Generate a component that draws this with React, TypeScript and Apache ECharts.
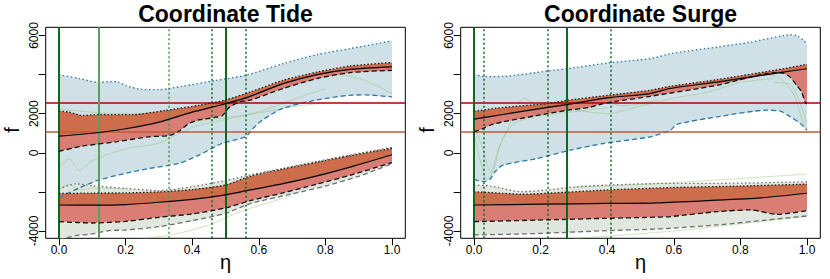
import React, { useEffect, useRef } from "react";
import * as echarts from "echarts";

// ---------- tick values ----------
const xTicks = [0, 0.2, 0.4, 0.6, 0.8, 1.0];
const yTicks = [-4000, -2000, 0, 2000, 4000, 6000];
const yLabels = [-4000, 0, 2000, 6000];
const titles = ["Coordinate Tide", "Coordinate Surge"];
const hLines = [2550, 1100];

// ---------- Tide (left panel) ----------
const tideOuterTop = [[0,4000],[0.06,3800],[0.12,3600],[0.15,3640],[0.175,3630],[0.2,3440],[0.25,3240],[0.3,3230],[0.37,3400],[0.47,3700],[0.56,3960],[0.673,4560],[0.775,5020],[0.874,5330],[1.0,5720]];
const tideOuterBottom = [[0,-2300],[0.06,-1800],[0.12,-1390],[0.2,-1050],[0.27,-800],[0.36,-540],[0.42,-120],[0.49,480],[0.56,820],[0.58,1200],[0.61,1670],[0.67,2260],[0.77,2690],[0.87,2940],[0.92,2960],[1.0,2860]];
const tideUpTop = [[0,2130],[0.03,2080],[0.07,1910],[0.12,1960],[0.22,1950],[0.32,2170],[0.42,2430],[0.5,2700],[0.574,3110],[0.673,3710],[0.775,4130],[0.874,4440],[1.0,4620]];
const tideUpMedian = [[0,850],[0.1,1000],[0.2,1230],[0.3,1570],[0.4,2080],[0.5,2510],[0.574,2890],[0.673,3540],[0.775,4000],[0.874,4270],[1.0,4400]];
const tideUpBottom = [[0,80],[0.07,340],[0.17,560],[0.27,820],[0.33,880],[0.36,1100],[0.39,1500],[0.42,1680],[0.47,1820],[0.49,1900],[0.51,2300],[0.54,2600],[0.574,2690],[0.673,3290],[0.775,3800],[0.874,4100],[1.0,4220]];
const tideLoOuterTop = [[0,-1850],[0.05,-1590],[0.1,-1680],[0.2,-1820],[0.3,-1930],[0.4,-1730],[0.5,-1420],[0.574,-1130],[0.673,-790],[0.775,-440],[0.874,-110],[1.0,280]];
const tideLoOuterBottom = [[0,-4450],[0.05,-4240],[0.1,-4150],[0.15,-3980],[0.2,-3950],[0.3,-3780],[0.4,-3470],[0.5,-3100],[0.574,-2600],[0.7,-2100],[0.8,-1700],[0.9,-1200],[1.0,-560]];
const tideLoTop = [[0,-2080],[0.1,-2060],[0.2,-2050],[0.3,-2000],[0.4,-1880],[0.5,-1650],[0.574,-1200],[0.673,-830],[0.775,-480],[0.874,-150],[1.0,230]];
const tideLoMedian = [[0,-2670],[0.1,-2680],[0.2,-2650],[0.3,-2530],[0.4,-2380],[0.5,-2150],[0.574,-1900],[0.673,-1580],[0.775,-1180],[0.874,-730],[1.0,-100]];
const tideLoBottom = [[0,-3520],[0.1,-3590],[0.2,-3510],[0.3,-3300],[0.4,-3130],[0.5,-2820],[0.574,-2450],[0.673,-2050],[0.775,-1600],[0.874,-1150],[1.0,-500]];
const tideGreen = [
  [[0,2200],[0.05,2150],[0.12,2050],[0.25,2000],[0.35,2200],[0.45,2400],[0.55,2650],[0.65,3100]],
  [[0,-800],[0.03,-300],[0.06,-900],[0.1,-400],[0.2,200],[0.3,500],[0.4,1300],[0.5,1700],[0.6,2100],[0.7,2700],[0.8,3300]],
  [[0,1800],[0.08,1600],[0.2,1400],[0.35,1500],[0.45,1700],[0.55,1900],[0.62,2100],[0.72,2400],[0.8,2550]],
  [[0,-1900],[0.03,-1600],[0.06,-1900],[0.1,-1800],[0.2,-1850]],
  [[0.85,4000],[0.92,3700],[0.97,3300],[1.0,3000]],
  [[0.26,-4380],[0.35,-4150],[0.45,-3700],[0.53,-3100],[0.6,-2700],[0.7,-2200]],
];
const tideVSolid = [0, 0.503];
const tideVLight = [0.12];
const tideVDotted = [0.333, 0.463, 0.564];

// ---------- Surge (right panel) ----------
const surgeOuterTop = [[0,4015],[0.03,3900],[0.09,3910],[0.22,4180],[0.28,4300],[0.4,4590],[0.53,4820],[0.59,5070],[0.73,5410],[0.83,5660],[0.93,6000],[0.95,6040],[0.97,5980],[0.99,5750],[1.0,5550]];
const surgeOuterBottom = [[0,-1360],[0.027,-1480],[0.048,-1360],[0.063,-970],[0.087,-630],[0.19,-290],[0.29,140],[0.39,480],[0.53,820],[0.59,1160],[0.61,1460],[0.73,1840],[0.88,2180],[0.92,2130],[0.95,1840],[0.98,1500],[1.0,1160]];
const surgeUpTop = [[0,2130],[0.087,2320],[0.222,2520],[0.282,2690],[0.402,2940],[0.529,3200],[0.589,3400],[0.729,3740],[0.929,4300],[1.0,4530]];
const surgeUpMedian = [[0,1720],[0.087,1960],[0.222,2320],[0.282,2480],[0.402,2810],[0.529,3030],[0.589,3290],[0.729,3620],[0.929,4130],[1.0,4300]];
const surgeUpBottom = [[0,1070],[0.027,1240],[0.048,1410],[0.087,1580],[0.222,2010],[0.282,2180],[0.347,2320],[0.388,2520],[0.43,2640],[0.529,2890],[0.729,3450],[0.909,4100],[0.929,4070],[0.949,3880],[0.969,3450],[0.984,3110],[0.994,2600],[1.0,2500]];
const surgeLoOuterTop = [[0,-1650],[0.05,-1700],[0.1,-1880],[0.14,-1990],[0.22,-1900],[0.3,-1750],[0.4,-1650],[0.59,-1560],[0.73,-1560],[1.0,-1480]];
const surgeLoOuterBottom = [[0,-4200],[0.1,-4170],[0.22,-4110],[0.4,-3980],[0.53,-3910],[0.59,-3860],[0.73,-3690],[0.93,-3350],[1.0,-3230]];
const surgeLoTop = [[0,-1990],[0.087,-2070],[0.14,-2120],[0.22,-2070],[0.4,-1900],[0.59,-1780],[0.8,-1700],[1.0,-1600]];
const surgeLoMedian = [[0,-2670],[0.2,-2630],[0.4,-2590],[0.55,-2560],[0.73,-2420],[0.85,-2320],[1.0,-2070]];
const surgeLoBottom = [[0,-3520],[0.22,-3430],[0.4,-3350],[0.53,-3300],[0.59,-3260],[0.73,-3010],[0.83,-2920],[0.91,-3150],[1.0,-2960]];
const surgeGreen = [
  [[0,1000],[0.02,-500],[0.04,-1400],[0.06,-800],[0.08,500],[0.12,1500],[0.2,1900],[0.3,2100],[0.4,2300]],
  [[0,1500],[0.03,0],[0.05,-1000],[0.07,0],[0.1,1200],[0.15,2800],[0.2,2400],[0.3,2600],[0.35,2800],[0.45,2400],[0.55,2700]],
  [[0.3,2200],[0.4,2000],[0.5,2400],[0.6,2800],[0.7,3100],[0.8,3600],[0.9,3800]],
  [[0.88,4000],[0.92,3800],[0.96,3000],[0.98,2000],[1.0,1000]],
  [[0.9,3600],[0.95,3500],[0.98,2500],[1.0,1500]],
  [[0.3,-1750],[0.53,-1600],[1.0,-1090]],
  [[0.3,-4380],[0.6,-4000],[1.0,-3250]],
];
const surgeVSolid = [0, 0.283];
const surgeVLight: number[] = [];
const surgeVDotted = [0.031, 0.223, 0.405];

const FONT = "'Liberation Sans', Arial, Helvetica, sans-serif";
const GRID_LEFT = [45.7, 460.7];

function band(gi: number, upper: number[][], lower: number[][], color: string, z: number) {
  return {
    type: "custom",
    xAxisIndex: gi,
    yAxisIndex: gi,
    data: [[0, 0]],
    silent: true,
    z,
    renderItem: (params: any, api: any) => {
      const pts = upper.map((p) => api.coord(p)).concat(lower.slice().reverse().map((p) => api.coord(p)));
      const cs = params.coordSys;
      return {
        type: "polygon",
        shape: { points: pts },
        style: { fill: color, stroke: null },
        clipPath: { type: "rect", shape: { x: cs.x, y: cs.y, width: cs.width, height: cs.height } },
      };
    },
  };
}

function line(gi: number, data: number[][], color: string, width: number, type: any, z: number, opacity = 1) {
  return {
    type: "line",
    xAxisIndex: gi,
    yAxisIndex: gi,
    data,
    showSymbol: false,
    symbol: "none",
    smooth: 0.25,
    silent: true,
    z,
    lineStyle: { color, width, type, opacity, cap: "butt" },
  };
}

function panelSeries(gi: number, d: any) {
  const s: any[] = [];
  s.push(band(gi, d.outerTop, d.outerBottom, "#cfe1e7", 1));
  s.push(band(gi, d.loOuterTop, d.loOuterBottom, "#dfe7df", 1));
  d.green.forEach((g: number[][]) => s.push(line(gi, g, "#8cc46a", 0.8, "solid", 2, 0.55)));
  s.push(band(gi, d.upTop, d.upMedian, "#cd6d4c", 3));
  s.push(band(gi, d.upMedian, d.upBottom, "#d97d75", 3));
  s.push(band(gi, d.loTop, d.loMedian, "#cd6d4c", 3));
  s.push(band(gi, d.loMedian, d.loBottom, "#d97d75", 3));
  s.push(line(gi, d.outerTop, "#2b7ba8", 1.3, [1.5, 2.5], 4));
  s.push(line(gi, d.outerBottom, "#2b7ba8", 1.3, [5, 3], 4));
  s.push(line(gi, d.loOuterTop, "#707070", 1.3, [1.5, 2.5], 4));
  s.push(line(gi, d.loOuterBottom, "#707070", 1.3, [5, 3], 4));
  s.push(line(gi, d.upTop, "#222", 1.3, [1.5, 2], 5));
  s.push(line(gi, d.upBottom, "#111", 1.3, [5, 3], 5));
  s.push(line(gi, d.loTop, "#222", 1.3, [1.5, 2], 5));
  s.push(line(gi, d.loBottom, "#111", 1.3, [5, 3], 5));
  s.push(line(gi, d.upMedian, "#000", 1.2, "solid", 5));
  s.push(line(gi, d.loMedian, "#000", 1.2, "solid", 5));
  // reference lines
  s.push({
    type: "line",
    xAxisIndex: gi,
    yAxisIndex: gi,
    data: [],
    silent: true,
    z: 6,
    markLine: {
      silent: true,
      symbol: "none",
      animation: false,
      label: { show: false },
      data: [
        { yAxis: hLines[0], lineStyle: { color: "#b00000", width: 1.5, type: "solid" } },
        { yAxis: hLines[1], lineStyle: { color: "#c05a38", width: 1.5, type: "solid" } },
        ...d.vSolid.map((v: number) => ({ xAxis: v, lineStyle: { color: "#0b6b1c", width: 2, type: "solid" } })),
        ...d.vLight.map((v: number) => ({ xAxis: v, lineStyle: { color: "#5f9e62", width: 2, type: "solid" } })),
        ...d.vDotted.map((v: number, i: number) => ({
          xAxis: v,
          lineStyle: { color: i === 0 && gi === 0 ? "#4b9550" : "#0b6b1c", width: 1.5, type: [2, 2.5] },
        })),
      ],
    },
  });
  return s;
}

export default function App() {
  const ref = useRef<HTMLDivElement>(null);
  useEffect(() => {
    if (!ref.current) return;
    const chart = echarts.init(ref.current, null, { renderer: "svg" });
    const panels = [
      {
        outerTop: tideOuterTop, outerBottom: tideOuterBottom,
        upTop: tideUpTop, upMedian: tideUpMedian, upBottom: tideUpBottom,
        loOuterTop: tideLoOuterTop, loOuterBottom: tideLoOuterBottom,
        loTop: tideLoTop, loMedian: tideLoMedian, loBottom: tideLoBottom,
        green: tideGreen, vSolid: tideVSolid, vLight: tideVLight, vDotted: tideVDotted,
      },
      {
        outerTop: surgeOuterTop, outerBottom: surgeOuterBottom,
        upTop: surgeUpTop, upMedian: surgeUpMedian, upBottom: surgeUpBottom,
        loOuterTop: surgeLoOuterTop, loOuterBottom: surgeLoOuterBottom,
        loTop: surgeLoTop, loMedian: surgeLoMedian, loBottom: surgeLoBottom,
        green: surgeGreen, vSolid: surgeVSolid, vLight: surgeVLight, vDotted: surgeVDotted,
      },
    ];
    const grids = GRID_LEFT.map((l) => ({
      left: l, top: 27.3, width: 359.6, height: 211,
      show: true, borderColor: "#000", borderWidth: 1, backgroundColor: "transparent",
    }));
    const xAxes = [0, 1].map((gi) => ({
      gridIndex: gi, type: "value", min: -0.04, max: 1.04, position: "bottom",
      axisLine: { show: false, onZero: false },
      splitLine: { show: false },
      axisTick: { show: true, length: 7, customValues: xTicks, lineStyle: { color: "#000", width: 1 } },
      axisLabel: {
        customValues: xTicks, formatter: (v: number) => v.toFixed(1),
        color: "#000", fontSize: 12, fontFamily: FONT, margin: 6,
      },
    }));
    const yAxes = [0, 1].map((gi) => ({
      gridIndex: gi, type: "value", min: -4373, max: 6420, position: "left",
      axisLine: { show: false, onZero: false },
      splitLine: { show: false },
      axisTick: { show: true, length: 7, customValues: yTicks, lineStyle: { color: "#000", width: 1 } },
      axisLabel: {
        customValues: yLabels, formatter: (v: number) => String(v), rotate: 90,
        color: "#000", fontSize: 12, fontFamily: FONT, margin: 6,
      },
    }));
    const graphics: any[] = [];
    GRID_LEFT.forEach((l, i) => {
      const cx = l + 179.8;
      graphics.push({
        type: "text", x: cx, y: 14,
        style: { text: titles[i], font: `bold 23px ${FONT}`, textAlign: "center", textVerticalAlign: "middle", fill: "#000" },
      });
      graphics.push({
        type: "text", x: cx, y: 262,
        style: { text: "η", font: `20px ${FONT}`, textAlign: "center", textVerticalAlign: "middle", fill: "#000" },
      });
      graphics.push({
        type: "text", x: l - 34, y: 130, rotation: Math.PI / 2,
        style: { text: "f", font: `20px ${FONT}`, textAlign: "center", textVerticalAlign: "middle", fill: "#000" },
      });
    });
    chart.setOption({
      animation: false,
      backgroundColor: "#fff",
      grid: grids,
      xAxis: xAxes,
      yAxis: yAxes,
      graphic: graphics,
      series: [...panelSeries(0, panels[0]), ...panelSeries(1, panels[1])],
    });
    return () => chart.dispose();
  }, []);
  return <div ref={ref} style={{ width: 830, height: 279, position: "absolute", left: 0, top: 0 }} />;
}
